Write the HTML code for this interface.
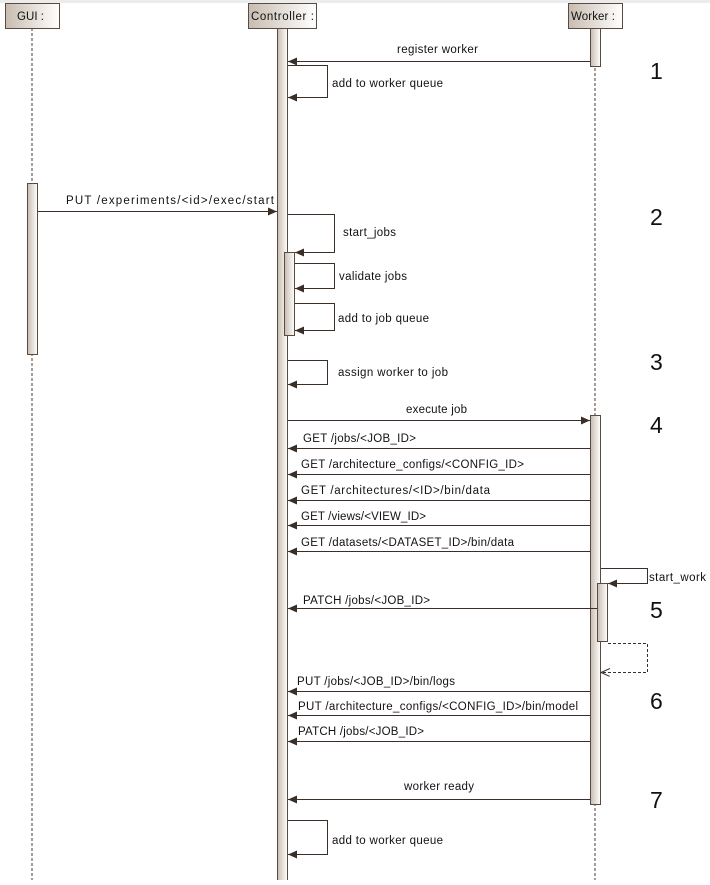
<!DOCTYPE html>
<html><head><style>
html,body{margin:0;padding:0;background:#fff;}
svg text{font-family:"Liberation Sans",Arial,sans-serif;font-size:11.5px;fill:#111;}
.n{font-size:23px;}
</style></head><body>
<svg width="710" height="880" viewBox="0 0 710 880" xmlns="http://www.w3.org/2000/svg">
<defs>
<linearGradient id="g" x1="0" x2="1" y1="0" y2="0"><stop offset="0" stop-color="#c8bcb0"/><stop offset="1" stop-color="#ffffff"/></linearGradient>
<marker id="a" markerWidth="10" markerHeight="10" refX="9" refY="4" orient="auto" markerUnits="userSpaceOnUse"><path d="M0,0 L9,4 L0,8 z" fill="#3a2e26"/></marker>
<marker id="o" markerWidth="10" markerHeight="10" refX="9" refY="4" orient="auto" markerUnits="userSpaceOnUse"><path d="M0,0 L9,4 L0,8" fill="none" stroke="#3a2e26"/></marker>
</defs>
<rect x="0" y="0" width="710" height="3" fill="#ececec"/>
<g stroke="#4a3c34" stroke-dasharray="3,2" fill="none">
<line x1="32" y1="28" x2="32" y2="880"/>
<line x1="595" y1="28" x2="595" y2="880"/>
</g>
<g stroke="#5a4a40" fill="url(#g)">
<rect x="5.5" y="3.5" width="54" height="25"/>
<rect x="248.5" y="3.5" width="68" height="25"/>
<rect x="568.5" y="3.5" width="54" height="25"/>
<rect x="27.5" y="183.5" width="10" height="171"/>
<rect x="277.5" y="28.5" width="10" height="860"/>
<rect x="284.5" y="252.5" width="10" height="83"/>
<rect x="590.5" y="28.5" width="10" height="38"/>
<rect x="590.5" y="415.5" width="10" height="389"/>
<rect x="597.5" y="583.5" width="10" height="58"/>
</g>
<text x="17" y="20" font-size="12.5" textLength="27">GUI :</text>
<text x="251" y="20" font-size="12.5" textLength="63">Controller :</text>
<text x="571" y="20" font-size="12.5" textLength="44">Worker :</text>
<g stroke="#3a2e26" fill="none" stroke-width="1">
<line x1="590" y1="61.5" x2="288" y2="61.5" marker-end="url(#a)"/>
<polyline points="288,65.5 327.5,65.5 327.5,97.5 288,97.5" marker-end="url(#a)"/>
<line x1="38" y1="211.5" x2="277" y2="211.5" marker-end="url(#a)"/>
<polyline points="288,214.5 334.5,214.5 334.5,252.5 295,252.5" marker-end="url(#a)"/>
<polyline points="295,263.5 334.5,263.5 334.5,288.5 295,288.5" marker-end="url(#a)"/>
<polyline points="295,303.5 334.5,303.5 334.5,330.5 295,330.5" marker-end="url(#a)"/>
<polyline points="288,360.5 327.5,360.5 327.5,384.5 288,384.5" marker-end="url(#a)"/>
<line x1="288" y1="420.5" x2="590" y2="420.5" marker-end="url(#a)"/>
<line x1="590" y1="448.5" x2="288" y2="448.5" marker-end="url(#a)"/>
<line x1="590" y1="474.5" x2="288" y2="474.5" marker-end="url(#a)"/>
<line x1="590" y1="500.5" x2="288" y2="500.5" marker-end="url(#a)"/>
<line x1="590" y1="525.5" x2="288" y2="525.5" marker-end="url(#a)"/>
<line x1="590" y1="551.5" x2="288" y2="551.5" marker-end="url(#a)"/>
<polyline points="601,568.5 647.5,568.5 647.5,583.5 608,583.5" marker-end="url(#a)"/>
<line x1="597" y1="608.5" x2="288" y2="608.5" marker-end="url(#a)"/>
<polyline points="608,643.5 647.5,643.5 647.5,672.5 601,672.5" stroke-dasharray="3,2" marker-end="url(#o)"/>
<line x1="590" y1="691.5" x2="288" y2="691.5" marker-end="url(#a)"/>
<line x1="590" y1="715.5" x2="288" y2="715.5" marker-end="url(#a)"/>
<line x1="590" y1="741.5" x2="288" y2="741.5" marker-end="url(#a)"/>
<line x1="590" y1="799.5" x2="288" y2="799.5" marker-end="url(#a)"/>
<polyline points="288,820.5 327.5,820.5 327.5,854.5 288,854.5" marker-end="url(#a)"/>
</g>
<text x="397" y="53" textLength="81">register worker</text>
<text x="332" y="87" textLength="111">add to worker queue</text>
<text x="66" y="204" textLength="208">PUT /experiments/&lt;id&gt;/exec/start</text>
<text x="343" y="236" textLength="53">start_jobs</text>
<text x="339" y="280" textLength="68">validate jobs</text>
<text x="338" y="322" textLength="91">add to job queue</text>
<text x="338" y="376" textLength="110">assign worker to job</text>
<text x="406" y="413" textLength="61">execute job</text>
<text x="303" y="442" textLength="113">GET /jobs/&lt;JOB_ID&gt;</text>
<text x="301" y="468" textLength="223">GET /architecture_configs/&lt;CONFIG_ID&gt;</text>
<text x="301" y="494" textLength="189">GET /architectures/&lt;ID&gt;/bin/data</text>
<text x="301" y="520" textLength="125">GET /views/&lt;VIEW_ID&gt;</text>
<text x="301" y="546" textLength="213">GET /datasets/&lt;DATASET_ID&gt;/bin/data</text>
<text x="649" y="581" textLength="57">start_work</text>
<text x="303" y="604" textLength="127">PATCH /jobs/&lt;JOB_ID&gt;</text>
<text x="297" y="685" textLength="158">PUT /jobs/&lt;JOB_ID&gt;/bin/logs</text>
<text x="298" y="710" textLength="280">PUT /architecture_configs/&lt;CONFIG_ID&gt;/bin/model</text>
<text x="298" y="735" textLength="126">PATCH /jobs/&lt;JOB_ID&gt;</text>
<text x="404" y="790" textLength="70">worker ready</text>
<text x="332" y="844" textLength="111">add to worker queue</text>
<text class="n" x="650" y="79">1</text>
<text class="n" x="650" y="225">2</text>
<text class="n" x="650" y="370">3</text>
<text class="n" x="650" y="433">4</text>
<text class="n" x="650" y="618">5</text>
<text class="n" x="650" y="709">6</text>
<text class="n" x="650" y="808">7</text>
</svg>
</body></html>
